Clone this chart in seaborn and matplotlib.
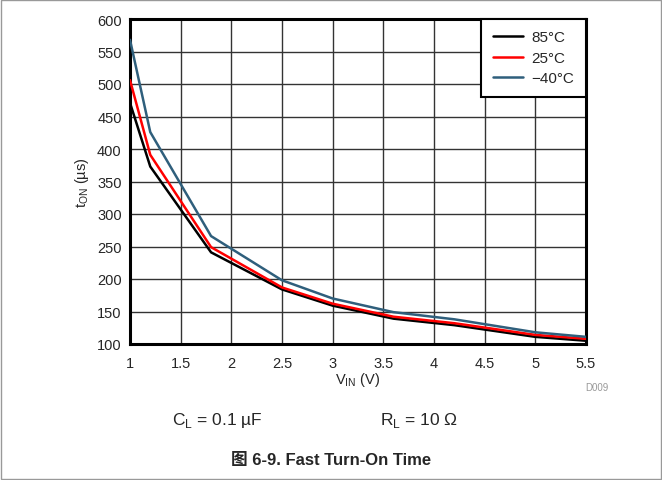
import matplotlib
matplotlib.use("Agg")
import matplotlib.pyplot as plt
import numpy as np
import pandas as pd
import seaborn as sns
from matplotlib.patches import Rectangle

# Data
vin = [1.0, 1.2, 1.8, 2.5, 3.0, 3.6, 4.2, 5.0, 5.5]
t_85c = [471, 373, 241, 184, 159, 139, 129, 111, 105]
t_25c = [506, 391, 249, 187, 162, 142, 132, 114, 108]
t_m40c = [568, 426, 266, 198, 170, 149, 138, 118, 111]
series_labels = ["85°C", "25°C", "\u221240°C"]
series_colors = ["#000000", "#FF0000", "#2F5F7C"]

x_ticks = [1, 1.5, 2, 2.5, 3, 3.5, 4, 4.5, 5, 5.5]
x_tick_labels = ["1", "1.5", "2", "2.5", "3", "3.5", "4", "4.5", "5", "5.5"]
y_ticks = list(range(100, 601, 50))

df = pd.DataFrame({
    "vin": vin * 3,
    "t_on": t_85c + t_25c + t_m40c,
    "temp": [series_labels[0]] * len(vin) + [series_labels[1]] * len(vin) + [series_labels[2]] * len(vin),
})

sns.set_style("white")
plt.rcParams["font.family"] = ["Liberation Sans", "Noto Sans CJK SC", "DejaVu Sans"]

fig = plt.figure(figsize=(6.62, 4.81), dpi=100)
ax = fig.add_axes([130 / 662, 1 - 345 / 481, 456 / 662, 325 / 481])

sns.lineplot(
    data=df, x="vin", y="t_on", hue="temp",
    hue_order=series_labels, palette=series_colors,
    linewidth=1.8, ax=ax, zorder=3,
)

ax.set_xlim(1, 5.5)
ax.set_ylim(100, 600)
ax.set_xticks(x_ticks)
ax.set_xticklabels(x_tick_labels)
ax.set_yticks(y_ticks)
ax.grid(True, color="#333333", linewidth=1.0)
ax.tick_params(axis="x", length=0, labelsize=10.5, pad=9)
ax.tick_params(axis="y", length=0, labelsize=10.5, pad=6)
for s in ax.spines.values():
    s.set_color("black")
    s.set_linewidth(2.2)

ax.set_xlabel("V$_{\\mathregular{IN}}$ (V)", fontsize=10.5, labelpad=0)
ax.set_ylabel("t$_{\\mathregular{ON}}$ (\u00b5s)", fontsize=10.5, labelpad=4)

leg = ax.legend(
    loc="upper right", fontsize=11, frameon=True, fancybox=False,
    borderaxespad=0, handlelength=2.0, handletextpad=0.55,
    borderpad=0.75, labelspacing=0.42,
)
leg.get_frame().set_edgecolor("black")
leg.get_frame().set_linewidth(1.5)
leg.get_frame().set_alpha(1)

fig.text(608 / 662, 1 - 388 / 481, "D009", fontsize=7, color="#999999", ha="right", va="center")
fig.text(172 / 662, 1 - 420 / 481, "C$_{\\mathregular{L}}$ = 0.1 \u00b5F", fontsize=12.5, va="center")
fig.text(380 / 662, 1 - 420 / 481, "R$_{\\mathregular{L}}$ = 10 \u03a9", fontsize=12.5, va="center")
fig.text(0.5, 1 - 461 / 481, "图 6-9. Fast Turn-On Time", fontsize=12, fontweight="bold",
         ha="center", va="center",
         family=["Liberation Sans", "Noto Sans CJK SC", "DejaVu Sans"])

fig.patches.append(Rectangle((0.002, 0.002), 0.996, 0.996, transform=fig.transFigure,
                             fill=False, edgecolor="#999999", linewidth=1))

fig.savefig("out.png", dpi=100)
